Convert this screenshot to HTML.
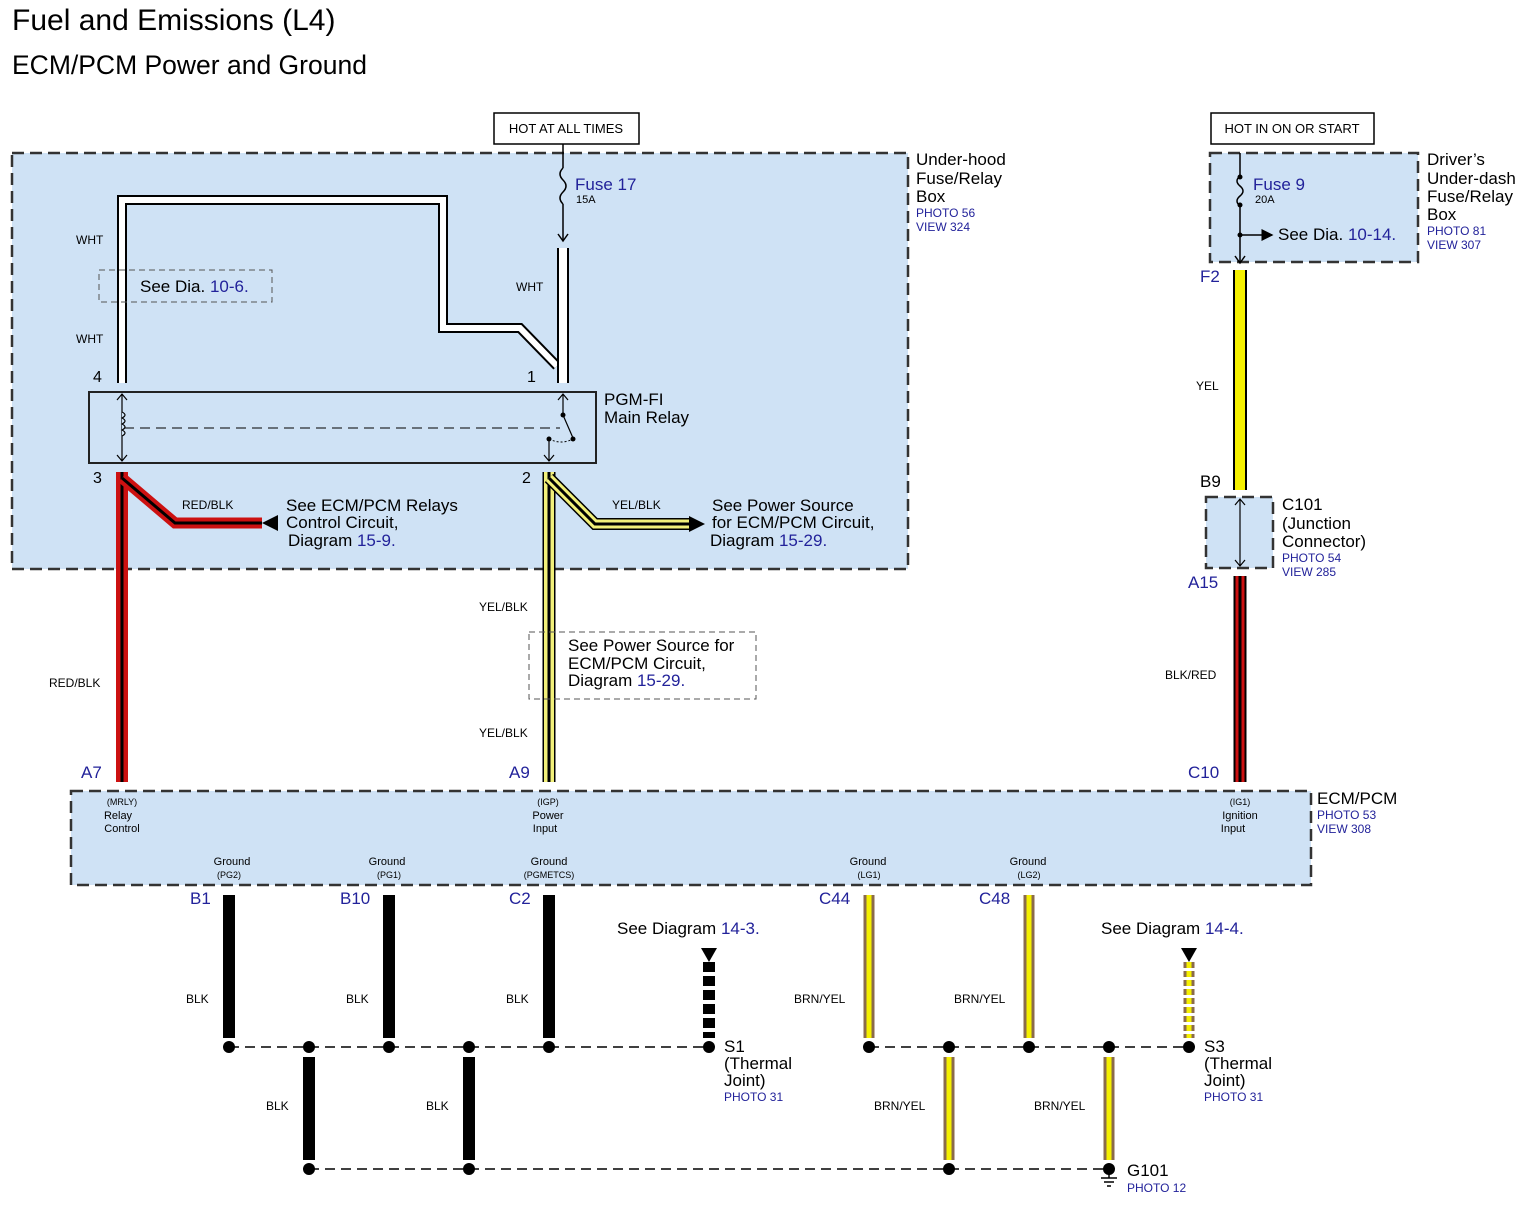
<!DOCTYPE html>
<html><head><meta charset="utf-8"><style>
html,body{margin:0;padding:0;background:#fff;}
svg{display:block;font-family:"Liberation Sans",Arial,sans-serif;}
.b{fill:#22229a}
</style></head><body>
<svg width="1527" height="1207" viewBox="0 0 1527 1207" xmlns="http://www.w3.org/2000/svg">
<defs>
<marker id="ah" markerWidth="8" markerHeight="8" refX="7" refY="4" orient="auto"><path d="M0,0 L8,4 L0,8 z" fill="#000"/></marker>
</defs>
<text x="12" y="30" font-size="30">Fuel and Emissions (L4)</text>
<text x="12" y="74" font-size="26.5">ECM/PCM Power and Ground</text>

<rect x="12" y="153" width="896" height="416" fill="#cfe2f5" stroke="#333" stroke-width="2.5" stroke-dasharray="12,6"/>
<rect x="1210" y="153" width="208" height="109" fill="#cfe2f5" stroke="#333" stroke-width="2.5" stroke-dasharray="12,6"/>
<rect x="1206" y="497" width="67" height="71" fill="#cfe2f5" stroke="#333" stroke-width="2.5" stroke-dasharray="12,6"/>
<rect x="71" y="791" width="1240" height="94" fill="#cfe2f5" stroke="#333" stroke-width="2.5" stroke-dasharray="12,6"/>
<rect x="494" y="113" width="145" height="31" fill="#fff" stroke="#000" stroke-width="1.5"/>
<text x="566" y="133" font-size="13" text-anchor="middle">HOT AT ALL TIMES</text>
<rect x="1211" y="113" width="163" height="31" fill="#fff" stroke="#000" stroke-width="1.5"/>
<text x="1292" y="133" font-size="13" text-anchor="middle">HOT IN ON OR START</text>

<g font-size="17"><text x="916" y="165">Under-hood</text><text x="916" y="184">Fuse/Relay</text><text x="916" y="202">Box</text></g>
<g font-size="12" class="b"><text x="916" y="217">PHOTO 56</text><text x="916" y="231">VIEW 324</text></g>
<g font-size="17"><text x="1427" y="165">Driver’s</text><text x="1427" y="184">Under-dash</text><text x="1427" y="202">Fuse/Relay</text><text x="1427" y="220">Box</text></g>
<g font-size="12" class="b"><text x="1427" y="235">PHOTO 81</text><text x="1427" y="249">VIEW 307</text></g>
<g font-size="17"><text x="1282" y="510">C101</text><text x="1282" y="529">(Junction</text><text x="1282" y="547">Connector)</text></g>
<g font-size="12" class="b"><text x="1282" y="562">PHOTO 54</text><text x="1282" y="576">VIEW 285</text></g>
<g font-size="17"><text x="1317" y="804">ECM/PCM</text></g>
<g font-size="12" class="b"><text x="1317" y="819">PHOTO 53</text><text x="1317" y="833">VIEW 308</text></g>

<line x1="563" y1="144" x2="563" y2="168" stroke="#000" stroke-width="1.5"/>
<path d="M563,168 q-6,6 0,12 q6,6 0,12 q-6,6 0,12" fill="none" stroke="#000" stroke-width="1.5"/>
<line x1="563" y1="204" x2="563" y2="240" stroke="#000" stroke-width="1.5"/>
<path d="M558,234 L563,241 L568,234" fill="none" stroke="#000" stroke-width="1.5"/>
<text x="575" y="190" font-size="17" class="b">Fuse 17</text>
<text x="576" y="203" font-size="11">15A</text>

<line x1="1240" y1="153" x2="1240" y2="176" stroke="#000" stroke-width="1.5"/>
<path d="M1240,176 q-6,5 0,10 q6,5 0,10 q-6,5 0,10" fill="none" stroke="#000" stroke-width="1.5"/>
<line x1="1240" y1="206" x2="1240" y2="262" stroke="#000" stroke-width="1.5"/>
<path d="M1235,256 L1240,263 L1245,256" fill="none" stroke="#000" stroke-width="1.5"/>
<line x1="1240" y1="235" x2="1272" y2="235" stroke="#000" stroke-width="1.5" marker-end="url(#ah)"/>
<circle cx="1240" cy="235" r="2.5"/><circle cx="1240" cy="177" r="2.5"/><circle cx="1240" cy="205" r="2.5"/>
<text x="1253" y="190" font-size="17" class="b">Fuse 9</text>
<text x="1255" y="203" font-size="11">20A</text>
<text x="1278" y="240" font-size="17">See Dia. <tspan class="b">10-14.</tspan></text>

<g fill="none" stroke-linejoin="miter">
<path d="M122,383 L122,200 L443,200 L443,328 L520,328 L557,366" stroke="#000" stroke-width="10"/>
<path d="M122,383 L122,200 L443,200 L443,328 L520,328 L557,366" stroke="#fff" stroke-width="6"/>
<path d="M563,248 L563,383" stroke="#000" stroke-width="12"/>
<path d="M563,248 L563,383" stroke="#fff" stroke-width="8"/>
</g>
<g font-size="12"><text x="76" y="244">WHT</text><text x="76" y="343">WHT</text><text x="516" y="291">WHT</text></g>
<rect x="99" y="270" width="173" height="32" fill="none" stroke="#555" stroke-width="1" stroke-dasharray="6,4"/>
<text x="140" y="292" font-size="17">See Dia. <tspan class="b">10-6.</tspan></text>

<g font-size="16"><text x="93" y="382">4</text><text x="527" y="382">1</text><text x="93" y="483">3</text><text x="522" y="483">2</text></g>

<rect x="89" y="392" width="507" height="71" fill="none" stroke="#222" stroke-width="2"/>
<text x="604" y="405" font-size="17">PGM-FI</text><text x="604" y="423" font-size="17">Main Relay</text>
<line x1="122" y1="394" x2="122" y2="461" stroke="#000" stroke-width="1.2"/>
<path d="M117,400 L122,394 L127,400 M117,455 L122,461 L127,455" fill="none" stroke="#000" stroke-width="1.2"/>
<path d="M122,412 q6,3 0,6 q6,3 0,6 q6,3 0,6 q6,3 0,6" fill="#cfe2f5" stroke="#000" stroke-width="1.2"/>
<line x1="124" y1="428" x2="560" y2="428" stroke="#000" stroke-width="1" stroke-dasharray="10,6"/>
<path d="M563,394 L563,415 L573,438" fill="none" stroke="#000" stroke-width="1.2"/>
<path d="M558,400 L563,394 L568,400" fill="none" stroke="#000" stroke-width="1.2"/>
<circle cx="563" cy="415" r="2.5"/><circle cx="573" cy="439" r="2.5"/><circle cx="549" cy="439" r="2.5"/>
<path d="M549,439 q12,6 24,0" fill="none" stroke="#000" stroke-dasharray="2,2"/>
<line x1="549" y1="439" x2="549" y2="461" stroke="#000" stroke-width="1.2"/>
<path d="M544,455 L549,461 L554,455" fill="none" stroke="#000" stroke-width="1.2"/>

<g fill="none">
<path d="M122,472 L122,782" stroke="#cc1111" stroke-width="12"/>
<path d="M122,472 L122,782" stroke="#000" stroke-width="3"/>
<path d="M122,478 L175,523 L262,523" stroke="#cc1111" stroke-width="11"/>
<path d="M122,478 L175,523 L262,523" stroke="#000" stroke-width="3"/>
</g>
<path d="M262,523 L278,515 L278,531 z"/>
<text x="182" y="509" font-size="12">RED/BLK</text>
<text x="49" y="687" font-size="12">RED/BLK</text>
<g font-size="17"><text x="286" y="511">See ECM/PCM Relays</text><text x="286" y="528">Control Circuit,</text><text x="288" y="546">Diagram <tspan class="b">15-9.</tspan></text></g>

<g fill="none">
<path d="M549,472 L549,782" stroke="#000" stroke-width="13"/>
<path d="M549,472 L549,782" stroke="#f2f07a" stroke-width="10"/>
<path d="M549,472 L549,782" stroke="#000" stroke-width="3"/>
<path d="M549,478 L595,524 L690,524" stroke="#000" stroke-width="12"/>
<path d="M549,478 L595,524 L690,524" stroke="#f2f07a" stroke-width="9"/>
<path d="M549,478 L595,524 L690,524" stroke="#000" stroke-width="3"/>
</g>
<path d="M705,524 L689,516 L689,532 z"/>
<text x="612" y="509" font-size="12">YEL/BLK</text>
<g font-size="17"><text x="712" y="511">See Power Source</text><text x="712" y="528">for ECM/PCM Circuit,</text><text x="710" y="546">Diagram <tspan class="b">15-29.</tspan></text></g>
<text x="479" y="611" font-size="12">YEL/BLK</text>
<text x="479" y="737" font-size="12">YEL/BLK</text>
<rect x="529" y="632" width="227" height="67" fill="none" stroke="#555" stroke-width="1" stroke-dasharray="6,4"/>
<g font-size="17"><text x="568" y="651">See Power Source for</text><text x="568" y="669">ECM/PCM Circuit,</text><text x="568" y="686">Diagram <tspan class="b">15-29.</tspan></text></g>

<path d="M1240,270 L1240,490" stroke="#000" stroke-width="14" fill="none"/>
<path d="M1240,270 L1240,490" stroke="#f5f000" stroke-width="10" fill="none"/>
<text x="1196" y="390" font-size="12">YEL</text>
<line x1="1240" y1="499" x2="1240" y2="566" stroke="#000" stroke-width="1.2"/>
<path d="M1235,505 L1240,499 L1245,505 M1235,560 L1240,566 L1245,560" fill="none" stroke="#000" stroke-width="1.2"/>
<path d="M1240,576 L1240,782" stroke="#000" stroke-width="13" fill="none"/>
<path d="M1240,576 L1240,782" stroke="#cc1111" stroke-width="9" fill="none"/>
<path d="M1240,576 L1240,782" stroke="#000" stroke-width="3" fill="none"/>
<text x="1165" y="679" font-size="12">BLK/RED</text>
<g font-size="17" class="b"><text x="1200" y="282">F2</text><text x="1188" y="588">A15</text><text x="1188" y="778">C10</text><text x="81" y="778">A7</text><text x="509" y="778">A9</text></g>
<text x="1200" y="487" font-size="17">B9</text>

<g font-size="11" text-anchor="middle">
<text x="122" y="805" font-size="9">(MRLY)</text><text x="118" y="819">Relay</text><text x="122" y="832">Control</text>
<text x="548" y="805" font-size="9">(IGP)</text><text x="548" y="819">Power</text><text x="545" y="832">Input</text>
<text x="1240" y="805" font-size="9">(IG1)</text><text x="1240" y="819">Ignition</text><text x="1233" y="832">Input</text>
<text x="232" y="865">Ground</text><text x="229" y="878" font-size="9">(PG2)</text>
<text x="387" y="865">Ground</text><text x="389" y="878" font-size="9">(PG1)</text>
<text x="549" y="865">Ground</text><text x="549" y="878" font-size="9">(PGMETCS)</text>
<text x="868" y="865">Ground</text><text x="869" y="878" font-size="9">(LG1)</text>
<text x="1028" y="865">Ground</text><text x="1029" y="878" font-size="9">(LG2)</text>
</g>
<g font-size="17" class="b"><text x="190" y="904">B1</text><text x="340" y="904">B10</text><text x="509" y="904">C2</text><text x="819" y="904">C44</text><text x="979" y="904">C48</text></g>

<g stroke="#000" stroke-width="12" fill="none">
<line x1="229" y1="895" x2="229" y2="1038"/><line x1="389" y1="895" x2="389" y2="1038"/><line x1="549" y1="895" x2="549" y2="1038"/>
<line x1="309" y1="1057" x2="309" y2="1160"/><line x1="469" y1="1057" x2="469" y2="1160"/>
<line x1="709" y1="962" x2="709" y2="1038" stroke-dasharray="10,4"/>
</g>
<g fill="none">
<g stroke="#8b6b4a" stroke-width="11">
<line x1="869" y1="895" x2="869" y2="1038"/><line x1="1029" y1="895" x2="1029" y2="1038"/>
<line x1="949" y1="1057" x2="949" y2="1160"/><line x1="1109" y1="1057" x2="1109" y2="1160"/>
<line x1="1189" y1="962" x2="1189" y2="1038" stroke-dasharray="6,3"/>
</g>
<g stroke="#f5f000" stroke-width="5">
<line x1="869" y1="895" x2="869" y2="1038"/><line x1="1029" y1="895" x2="1029" y2="1038"/>
<line x1="949" y1="1057" x2="949" y2="1160"/><line x1="1109" y1="1057" x2="1109" y2="1160"/>
<line x1="1189" y1="962" x2="1189" y2="1038" stroke-dasharray="6,3"/>
</g>
</g>
<path d="M701,948 L717,948 L709,962 z"/><path d="M1181,948 L1197,948 L1189,962 z"/>
<g stroke="#000" stroke-width="1.5" stroke-dasharray="10,6">
<line x1="229" y1="1047" x2="709" y2="1047"/><line x1="309" y1="1169" x2="1109" y2="1169"/>
<line x1="869" y1="1047" x2="1189" y2="1047"/>
</g>
<g>
<circle cx="229" cy="1047" r="6"/><circle cx="309" cy="1047" r="6"/><circle cx="389" cy="1047" r="6"/><circle cx="469" cy="1047" r="6"/><circle cx="549" cy="1047" r="6"/><circle cx="709" cy="1047" r="6"/>
<circle cx="869" cy="1047" r="6"/><circle cx="949" cy="1047" r="6"/><circle cx="1029" cy="1047" r="6"/><circle cx="1109" cy="1047" r="6"/><circle cx="1189" cy="1047" r="6"/>
<circle cx="309" cy="1169" r="6"/><circle cx="469" cy="1169" r="6"/><circle cx="949" cy="1169" r="6"/><circle cx="1109" cy="1169" r="6"/>
</g>
<g stroke="#000" stroke-width="1.5"><line x1="1109" y1="1169" x2="1109" y2="1178"/><line x1="1101" y1="1178" x2="1117" y2="1178"/><line x1="1104" y1="1182" x2="1114" y2="1182"/><line x1="1107" y1="1186" x2="1111" y2="1186"/></g>
<g font-size="12">
<text x="186" y="1003">BLK</text><text x="346" y="1003">BLK</text><text x="506" y="1003">BLK</text>
<text x="266" y="1110">BLK</text><text x="426" y="1110">BLK</text>
<text x="794" y="1003">BRN/YEL</text><text x="954" y="1003">BRN/YEL</text>
<text x="874" y="1110">BRN/YEL</text><text x="1034" y="1110">BRN/YEL</text>
</g>
<text x="617" y="934" font-size="17">See Diagram <tspan class="b">14-3.</tspan></text>
<text x="1101" y="934" font-size="17">See Diagram <tspan class="b">14-4.</tspan></text>
<g font-size="17"><text x="724" y="1052">S1</text><text x="724" y="1069">(Thermal</text><text x="724" y="1086">Joint)</text>
<text x="1204" y="1052">S3</text><text x="1204" y="1069">(Thermal</text><text x="1204" y="1086">Joint)</text>
<text x="1127" y="1176">G101</text></g>
<g font-size="12" class="b"><text x="724" y="1101">PHOTO 31</text><text x="1204" y="1101">PHOTO 31</text><text x="1127" y="1192">PHOTO 12</text></g>
</svg>
</body></html>
